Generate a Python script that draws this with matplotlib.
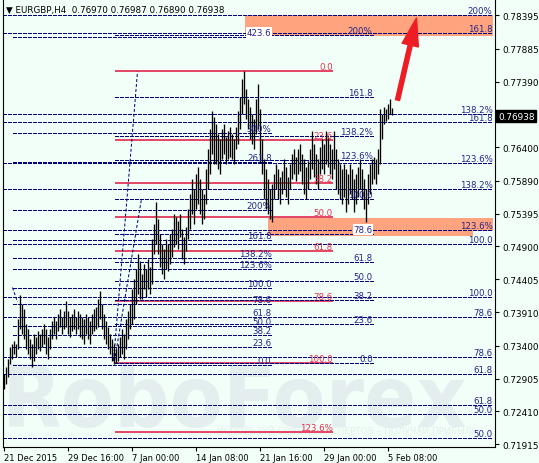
import matplotlib
matplotlib.use("Agg")
import matplotlib.pyplot as plt
from matplotlib.patches import Rectangle, FancyArrowPatch
from matplotlib.transforms import blended_transform_factory

# EURGBP H4 bars, highs and lows
highs = [
    0.7298, 0.7308, 0.7320, 0.7338, 0.7343, 0.7347, 0.7343, 0.7381, 0.7417, 0.7403,
    0.7396, 0.7373, 0.7365, 0.7350, 0.7343, 0.7358, 0.7353, 0.7362, 0.7358, 0.7365,
    0.7373, 0.7365, 0.7353, 0.7365, 0.7378, 0.7384, 0.7378, 0.7388, 0.7396, 0.7384,
    0.7393, 0.7408, 0.7393, 0.7384, 0.7388, 0.7396, 0.7384, 0.7393, 0.7388, 0.7384,
    0.7381, 0.7388, 0.7384, 0.7378, 0.7388, 0.7396, 0.7399, 0.7411, 0.7423, 0.7403,
    0.7388, 0.7378, 0.7368, 0.7358, 0.7350, 0.7343, 0.7335, 0.7343, 0.7353, 0.7365,
    0.7358, 0.7381, 0.7393, 0.7403, 0.7426, 0.7441, 0.7456, 0.7479, 0.7468, 0.7448,
    0.7464, 0.7456, 0.7471, 0.7459, 0.7501, 0.7524, 0.7557, 0.7532, 0.7509, 0.7494,
    0.7486, 0.7501, 0.7494, 0.7509, 0.7516, 0.7539, 0.7535, 0.7529, 0.7539, 0.7516,
    0.7504, 0.7519, 0.7547, 0.7569, 0.7592, 0.7577, 0.7600, 0.7610, 0.7592, 0.7577,
    0.7569, 0.7607, 0.7637, 0.7667, 0.7695, 0.7686, 0.7675, 0.7660, 0.7652, 0.7667,
    0.7675, 0.7655, 0.7664, 0.7670, 0.7660, 0.7652, 0.7670, 0.7695, 0.7716, 0.7743,
    0.7755, 0.7728, 0.7713, 0.7701, 0.7690, 0.7683, 0.7713, 0.7735, 0.7698, 0.7652,
    0.7622, 0.7607, 0.7592, 0.7577, 0.7584, 0.7600, 0.7615, 0.7607, 0.7595, 0.7604,
    0.7622, 0.7610, 0.7595, 0.7615, 0.7630, 0.7637, 0.7625, 0.7637, 0.7645, 0.7630,
    0.7622, 0.7610, 0.7619, 0.7637, 0.7664, 0.7645, 0.7630, 0.7622, 0.7640, 0.7652,
    0.7645, 0.7664, 0.7655, 0.7645, 0.7637, 0.7664, 0.7637, 0.7622, 0.7615, 0.7607,
    0.7615, 0.7607, 0.7600, 0.7615, 0.7607, 0.7592, 0.7600, 0.7610, 0.7622, 0.7607,
    0.7592, 0.7577, 0.7600, 0.7615, 0.7622, 0.7625, 0.7622, 0.7637, 0.7698, 0.7690,
    0.7701, 0.7698, 0.7705, 0.7713, 0.76987,
]
lows = [
    0.7275, 0.7282, 0.7293, 0.7313, 0.7320, 0.7328, 0.7323, 0.7335, 0.7365, 0.7358,
    0.7350, 0.7335, 0.7328, 0.7320, 0.7308, 0.7317, 0.7328, 0.7335, 0.7332, 0.7338,
    0.7343, 0.7328, 0.7320, 0.7335, 0.7350, 0.7358, 0.7350, 0.7362, 0.7368, 0.7358,
    0.7365, 0.7368, 0.7358, 0.7353, 0.7362, 0.7365, 0.7358, 0.7365, 0.7353, 0.7350,
    0.7343, 0.7358, 0.7350, 0.7343, 0.7358, 0.7362, 0.7365, 0.7368, 0.7381, 0.7365,
    0.7350, 0.7343, 0.7335, 0.7328, 0.7317, 0.7313, 0.7314, 0.7317, 0.7323, 0.7328,
    0.7320, 0.7335, 0.7350, 0.7365, 0.7373, 0.7381, 0.7403, 0.7418, 0.7411, 0.7411,
    0.7426, 0.7414, 0.7426, 0.7418, 0.7433, 0.7479, 0.7494, 0.7479, 0.7459, 0.7448,
    0.7441, 0.7456, 0.7453, 0.7464, 0.7474, 0.7489, 0.7494, 0.7486, 0.7504, 0.7471,
    0.7464, 0.7483, 0.7501, 0.7516, 0.7539, 0.7524, 0.7547, 0.7554, 0.7539, 0.7524,
    0.7532, 0.7554, 0.7577, 0.7600, 0.7630, 0.7615, 0.7615, 0.7607, 0.7600, 0.7622,
    0.7630, 0.7615, 0.7622, 0.7625, 0.7622, 0.7615, 0.7637, 0.7645, 0.7667, 0.7690,
    0.7705, 0.7683, 0.7667, 0.7652, 0.7645, 0.7637, 0.7660, 0.7667, 0.7618, 0.7600,
    0.7562, 0.7547, 0.7539, 0.7532, 0.7527, 0.7562, 0.7577, 0.7562, 0.7554, 0.7569,
    0.7577, 0.7565, 0.7554, 0.7577, 0.7592, 0.7600, 0.7589, 0.7600, 0.7604, 0.7584,
    0.7569, 0.7562, 0.7577, 0.7592, 0.7607, 0.7595, 0.7584, 0.7577, 0.7600, 0.7607,
    0.7600, 0.7615, 0.7610, 0.7600, 0.7592, 0.7607, 0.7577, 0.7569, 0.7562, 0.7554,
    0.7565, 0.7542, 0.7554, 0.7569, 0.7562, 0.7542, 0.7554, 0.7565, 0.7577, 0.7562,
    0.7547, 0.7527, 0.7554, 0.7569, 0.7584, 0.7592, 0.7584, 0.7600, 0.7615, 0.7652,
    0.7675, 0.7680, 0.7683, 0.7690, 0.76890,
]
last_ohlc = [0.76970, 0.76987, 0.76890, 0.76938]

date_pos = [0, 32, 64, 96, 128, 160, 192]
date_labels = ["21 Dec 2015", "29 Dec 16:00", "7 Jan 00:00", "14 Jan 08:00",
               "21 Jan 16:00", "29 Jan 00:00", "5 Feb 08:00"]
price_ticks = [0.78395, 0.77885, 0.77390, 0.76400, 0.75890, 0.75395, 0.74900,
               0.74405, 0.73910, 0.73400, 0.72905, 0.72410, 0.71915]

# Fibonacci tools: price at 0 % and 100 %, bar span, levels
fib_red = dict(p0=0.7755, p100=0.7314, x0=55.5, x1=164.5,
               levels=[0, 23.6, 38.2, 50, 61.8, 78.6, 100, 123.6])
fib_n1 = dict(p0=0.7311, p100=0.7428, x0=4.5, x1=134,
              levels=[0, 23.6, 38.2, 50, 61.8, 78.6, 100, 123.6, 138.2, 161.8, 200, 261.8, 300, 423.6])
fib_n2 = dict(p0=0.7314, p100=0.7562, x0=55.5, x1=184.5,
              levels=[0, 23.6, 38.2, 50, 61.8, 78.6, 100, 123.6, 138.2, 161.8, 200])
fib_p = dict(p0=0.6988, p100=0.7414, x0=-0.5, x1=244.5,
             levels=[50, 61.8, 78.6, 100, 123.6, 138.2, 161.8, 200])
fib_q = dict(p0=0.6979, p100=0.7494, x0=-0.5, x1=244.5,
             levels=[38.2, 50, 61.8, 78.6, 100, 123.6, 138.2, 161.8])
pct_levels = {123.6: "123.6%", 138.2: "138.2%", 200: "200%", 300: "300%"}

# target zones (bar from, bar to, price low, price high)
zones = [(120.5, 244.5, 0.7808, 0.7840),
         (132, 244.5, 0.7513, 0.7533),
         (132, 234.5, 0.7506, 0.7533)]

# dashed trend lines of the expansions
trend_lines = [((55, 0.7317), (67, 0.7754)),
               ((55.5, 0.7317), (69, 0.7562)),
               ((4.5, 0.7428), (7, 0.7406))]
arrow_from = (197, 0.7711)
arrow_to = (206.5, 0.7835)

bg = "#F2FFF8"
navy = "#000080"
navy_txt = "#24248C"
crimson = "#E0143C"

fig = plt.figure(figsize=(5.39, 4.64), dpi=100, facecolor=bg)
ax = fig.add_axes([3 / 539, 16 / 464, 492 / 539, 447 / 464])
ax.set_facecolor(bg)
ax.set_xlim(-0.25, 245.75)
ax.set_ylim(0.71872, 0.78622)

# watermark
ax.text(0.47, 0.047, "RoboForex", transform=ax.transAxes, ha="center", va="baseline",
        fontsize=62, fontweight="bold", fontstretch="condensed", color="#E5EEEE",
        zorder=0.5, family="DejaVu Sans")
ax.text(0.70, 0.036, "ИСПОЛЬЗУЙ СОВЕТЫ ЭКСПЕРТОВ – ПОЛУЧАЙ ПРИБЫЛЬ", transform=ax.transAxes,
        ha="center", va="center", fontsize=6.5, color="#E4EEED", zorder=0.5)

for x0, x1, lo, hi in zones:
    ax.add_patch(Rectangle((x0, lo), x1 - x0, hi - lo, facecolor="#FFA47E",
                           edgecolor="none", zorder=1))


def draw_fib(fib, color, txt_color, boxed=()):
    red = color == crimson
    for lv in fib["levels"]:
        price = fib["p0"] + (fib["p100"] - fib["p0"]) * lv / 100
        if red:
            ax.hlines(price, fib["x0"], fib["x1"], colors=color, linestyles="-",
                      linewidth=1.1, zorder=2)
        else:
            ax.hlines(price, fib["x0"], fib["x1"], colors=color, linestyles=(0, (3, 2)),
                      linewidth=0.72, zorder=2, antialiased=False)
        box = dict(facecolor="white", edgecolor="none", pad=0.6) if lv in boxed else None
        ax.text(fib["x1"], price, pct_levels.get(lv, f"{lv:.1f}"), ha="right", va="bottom",
                fontsize=6.2, color=txt_color, zorder=4, bbox=box, clip_on=True)


draw_fib(fib_red, crimson, "#E8304C")
draw_fib(fib_q, navy, navy_txt)
draw_fib(fib_p, navy, navy_txt)
draw_fib(fib_n1, navy, navy_txt, boxed=(423.6,))
draw_fib(fib_n2, navy, navy_txt, boxed=(78.6,))

for (xa, ya), (xb, yb) in trend_lines:
    ax.plot([xa, xb], [ya, yb], color=navy, linestyle=(0, (3, 2)), linewidth=0.72, zorder=2)

# bars
ax.vlines(range(len(highs)), lows, highs, colors="black", linewidth=0.95, zorder=3)

ax.add_patch(FancyArrowPatch(arrow_from, arrow_to, arrowstyle="simple,head_width=12,head_length=20,tail_width=3",
                             mutation_scale=1, color="#EE1C24", shrinkA=0, shrinkB=0, zorder=5))

# axes
ax.spines["top"].set_visible(False)
for side in ["left", "bottom", "right"]:
    ax.spines[side].set_linewidth(0.8)
ax.yaxis.tick_right()
ax.set_yticks(price_ticks)
ax.set_yticklabels([f"{p:.5f}" for p in price_ticks])
ax.set_xticks(date_pos)
ax.set_xticklabels(date_labels, ha="left")
ax.tick_params(axis="both", length=3, width=0.8, labelsize=6.4, pad=2, colors="black")
ax.tick_params(axis="x", labelsize=6.0, pad=1.5)

# current price box
tr = blended_transform_factory(ax.transAxes, ax.transData)
ax.text(1.006, last_ohlc[3], f"{last_ohlc[3]:.5f}", transform=tr, ha="left", va="top",
        fontsize=6.4, color="white", clip_on=False,
        bbox=dict(facecolor="black", edgecolor="black", pad=1.2))

fig.text(6 / 539, 1 - 10 / 464,
         "▼ EURGBP,H4  " + " ".join(f"{v:.5f}" for v in last_ohlc),
         fontsize=6.3, va="center", ha="left", color="black")

fig.savefig("out.png", dpi=100, facecolor=bg)
